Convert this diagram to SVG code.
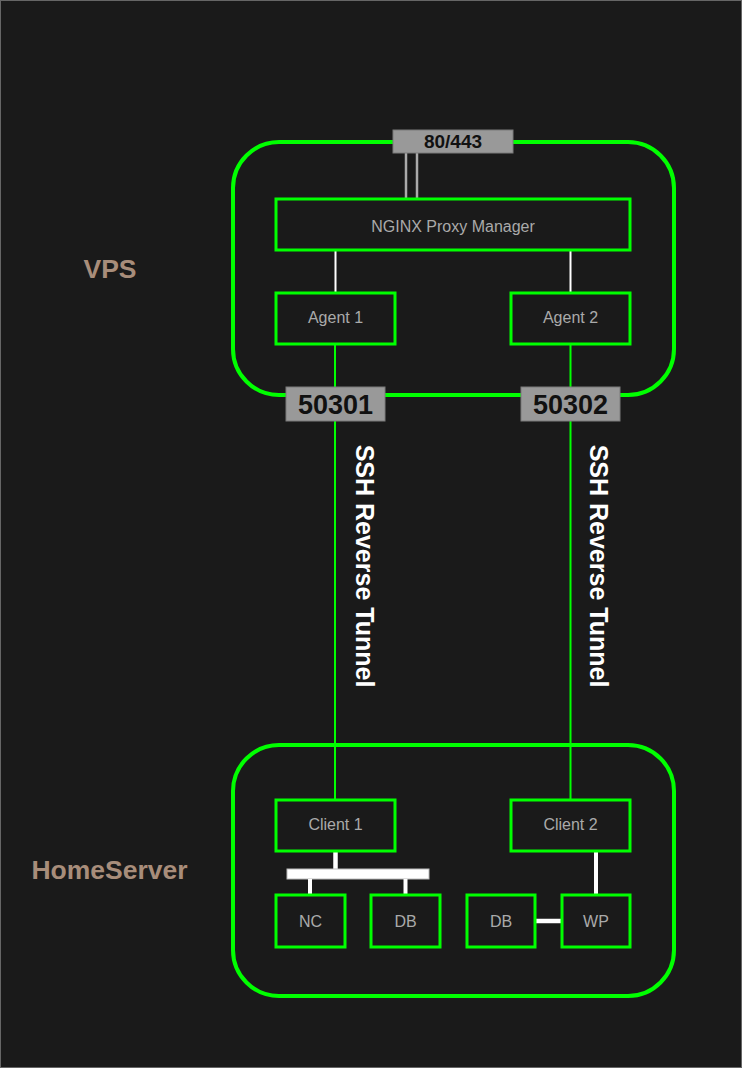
<svg xmlns="http://www.w3.org/2000/svg" width="742" height="1068" viewBox="0 0 742 1068">
<style>
.cont{fill:none;stroke:#00ff00;stroke-width:4}
.node{fill:#1a1a1a;stroke:#00ff00;stroke-width:3}
.port{fill:#999999;stroke:#7a7a7a;stroke-width:1}
.nt{font-family:"Liberation Sans",Arial,sans-serif;font-size:16px;fill:#aaaaaa;text-anchor:middle}
.pt{font-family:"Liberation Sans",Arial,sans-serif;font-weight:bold;fill:#111111;text-anchor:middle}
.lbl{font-family:"Liberation Sans",Arial,sans-serif;font-weight:bold;font-size:26.5px;fill:#a88d7a;text-anchor:middle}
.ssh{font-family:"Liberation Sans",Arial,sans-serif;font-weight:bold;font-size:25px;fill:#ffffff;text-anchor:middle}
.g{stroke:#00ff00;stroke-width:2;fill:none}
.w{stroke:#ffffff;fill:none}
</style>
<rect x="0.5" y="0.5" width="741" height="1067" fill="#1a1a1a" stroke="#666666" stroke-width="1"/>
<g id="labels">
<text class="lbl" x="110" y="278">VPS</text>
<text class="lbl" x="109.5" y="879">HomeServer</text>
</g>
<g id="vps">
<rect class="cont" x="233" y="142" width="441" height="253" rx="46" ry="46"/>
</g>
<g id="homeserver">
<rect class="cont" x="233" y="745" width="441" height="251" rx="46" ry="46"/>
</g>
<g id="connectors">
<line class="g" x1="335" y1="344" x2="335" y2="800"/>
<line class="g" x1="570.5" y1="344" x2="570.5" y2="800"/>
<line x1="406" y1="153" x2="406" y2="199" stroke="#aaaaaa" stroke-width="2.5"/>
<line x1="417" y1="153" x2="417" y2="199" stroke="#aaaaaa" stroke-width="2.5"/>
<line class="w" x1="335.5" y1="251" x2="335.5" y2="293" stroke-width="2"/>
<line class="w" x1="570.5" y1="251" x2="570.5" y2="293" stroke-width="2"/>
<line class="w" x1="335.5" y1="852" x2="335.5" y2="869" stroke-width="4.5"/>
<rect x="287" y="869" width="142" height="10" fill="#ffffff" stroke="#bbbbbb" stroke-width="1"/>
<line class="w" x1="310" y1="879" x2="310" y2="895" stroke-width="4"/>
<line class="w" x1="405.5" y1="879" x2="405.5" y2="895" stroke-width="4"/>
<line class="w" x1="596" y1="852" x2="596" y2="895" stroke-width="4"/>
<line class="w" x1="535" y1="921" x2="562" y2="921" stroke-width="4.5"/>
</g>
<g id="port-80-443">
<rect class="port" x="393" y="130" width="120" height="23"/>
<text class="pt" x="453" y="148" font-size="19">80/443</text>
</g>
<g id="nginx">
<rect class="node" x="276" y="199" width="354" height="51"/>
<text class="nt" x="453" y="232">NGINX Proxy Manager</text>
</g>
<g id="agent1">
<rect class="node" x="276" y="293" width="119" height="51"/>
<text class="nt" x="335.5" y="322.5">Agent 1</text>
</g>
<g id="agent2">
<rect class="node" x="511" y="293" width="119" height="51"/>
<text class="nt" x="570.5" y="322.5">Agent 2</text>
</g>
<g id="port-50301">
<rect class="port" x="286" y="387" width="99" height="34"/>
<text class="pt" x="335.5" y="413.5" font-size="27">50301</text>
</g>
<g id="port-50302">
<rect class="port" x="521" y="387" width="99" height="34"/>
<text class="pt" x="570.5" y="413.5" font-size="27">50302</text>
</g>
<g id="tunnel-labels">
<text class="ssh" transform="translate(356,566) rotate(90)">SSH Reverse Tunnel</text>
<text class="ssh" transform="translate(590,566) rotate(90)">SSH Reverse Tunnel</text>
</g>
<g id="client1">
<rect class="node" x="276" y="800" width="119" height="51"/>
<text class="nt" x="335.5" y="830">Client 1</text>
</g>
<g id="client2">
<rect class="node" x="511" y="800" width="119" height="51"/>
<text class="nt" x="570.5" y="830">Client 2</text>
</g>
<g id="nc">
<rect class="node" x="276" y="895" width="69" height="52"/>
<text class="nt" x="310.5" y="927">NC</text>
</g>
<g id="db1">
<rect class="node" x="371" y="895" width="69" height="52"/>
<text class="nt" x="405.5" y="927">DB</text>
</g>
<g id="db2">
<rect class="node" x="467" y="895" width="68" height="52"/>
<text class="nt" x="501" y="927">DB</text>
</g>
<g id="wp">
<rect class="node" x="562" y="895" width="68" height="52"/>
<text class="nt" x="596" y="927">WP</text>
</g>
</svg>
